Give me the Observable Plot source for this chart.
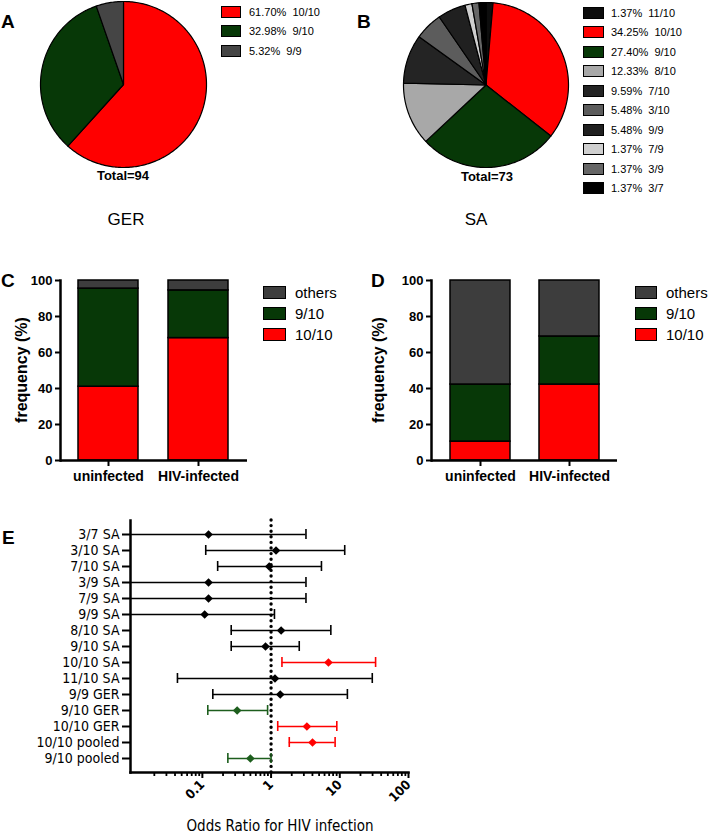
<!DOCTYPE html>
<html><head><meta charset="utf-8">
<script src="https://cdn.jsdelivr.net/npm/d3@7"></script>
<script src="https://cdn.jsdelivr.net/npm/@observablehq/plot@0.6"></script>
<style>
body{margin:0;background:#fff;font-family:Arial,"Liberation Sans",sans-serif;color:#000;}
#page{position:relative;width:708px;height:834px;overflow:hidden;background:#fff;}
#page svg{position:absolute;overflow:visible;background:transparent;}
.t{position:absolute;white-space:pre;line-height:1;}
.sw{position:absolute;box-sizing:border-box;border:1.5px solid #000;}
.narrow{font-family:"Liberation Sans Narrow","Arial Narrow","DejaVu Sans Condensed",Arial,sans-serif;}
</style></head>
<body><div id="page"></div>
<script>
// ---------- data ----------
const gerLabels = ["10/10", "9/10", "9/9"];
const gerPct = [61.70, 32.98, 5.32];
const gerColors = ["#ff0000", "#073807", "#454545"];
const gerTotal = 94;

const saLabels = ["11/10", "10/10", "9/10", "8/10", "7/10", "3/10", "9/9", "7/9", "3/9", "3/7"];
const saPct = [1.37, 34.25, 27.40, 12.33, 9.59, 5.48, 5.48, 1.37, 1.37, 1.37];
const saColors = ["#0d0d0d", "#ff0000", "#073807", "#a8a8a8", "#242424", "#5c5c5c", "#202020", "#cfcfcf", "#666666", "#000000"];
const saTotal = 73;

const groups = ["uninfected", "HIV-infected"];
const categories = ["10/10", "9/10", "others"];
const catColors = ["#ff0000", "#073807", "#3d3d3d"];
const gerFreq10 = [41.0, 68.0];
const gerFreq9 = [54.5, 26.5];
const gerFreqOthers = [4.5, 5.5];
const saFreq10 = [10.5, 42.2];
const saFreq9 = [31.7, 26.7];
const saFreqOthers = [57.8, 31.1];
const freqTicks = [0, 20, 40, 60, 80, 100];

const orLabels = ["3/7 SA", "3/10 SA", "7/10 SA", "3/9 SA", "7/9 SA", "9/9 SA", "8/10 SA", "9/10 SA", "10/10 SA", "11/10 SA", "9/9 GER", "9/10 GER", "10/10 GER", "10/10 pooled", "9/10 pooled"];
const orValue = [0.123, 1.18, 0.94, 0.123, 0.123, 0.108, 1.40, 0.83, 6.84, 1.14, 1.36, 0.321, 3.32, 4.01, 0.50];
const orLower = [0.001, 0.112, 0.167, 0.001, 0.001, 0.001, 0.263, 0.263, 1.44, 0.0434, 0.142, 0.120, 1.25, 1.84, 0.235];
const orUpper = [3.22, 11.8, 5.41, 3.22, 3.22, 1.12, 7.41, 2.57, 33.2, 29.7, 12.9, 0.89, 9.05, 8.55, 1.0];
const orGroup = ["ns", "ns", "ns", "ns", "ns", "ns", "ns", "ns", "risk", "ns", "ns", "protective", "risk", "risk", "protective"];
const orGroupDomain = ["ns", "risk", "protective"];
const orGroupColors = ["#000000", "#ff0000", "#1d5e1d"];
const orDomain = [0.009, 100];
const orMajorTicks = [0.1, 1, 10, 100];
const orMinorTicks = [0.02,0.03,0.04,0.05,0.06,0.07,0.08,0.09,0.2,0.3,0.4,0.5,0.6,0.7,0.8,0.9,2,3,4,5,6,7,8,9,20,30,40,50,60,70,80,90];
const orReference = [1];

// ---------- helpers ----------
const page = document.getElementById("page");
function put(svg, left, top) { svg.style.left = left + "px"; svg.style.top = top + "px"; page.appendChild(svg); }
function txt(str, x, y, css, anchor) {
  const d = document.createElement("div");
  d.className = "t";
  d.textContent = str;
  d.style.cssText += css;
  d.style.left = x + "px"; d.style.top = y + "px";
  d.style.transform = anchor === "center" ? "translate(-50%,-50%)" : "translate(0,-50%)";
  page.appendChild(d);
  return d;
}
function swatch(color, x, y, w, h) {
  const d = document.createElement("div");
  d.className = "sw";
  d.style.left = x + "px"; d.style.top = (y - h / 2) + "px";
  d.style.width = w + "px"; d.style.height = h + "px";
  d.style.background = color;
  page.appendChild(d);
}

function piePlot(labels, pct, colors, r) {
  const pts = [];
  let cum = 0;
  labels.forEach((lab, i) => {
    const a0 = cum / 100 * 2 * Math.PI; cum += pct[i]; const a1 = cum / 100 * 2 * Math.PI;
    const n = Math.max(2, Math.ceil((a1 - a0) / (Math.PI / 180)));
    pts.push({key: lab, x: 0, y: 0, c: colors[i]});
    for (let k = 0; k <= n; k++) { const a = a0 + (a1 - a0) * k / n; pts.push({key: lab, x: Math.sin(a), y: Math.cos(a), c: colors[i]}); }
  });
  const m = 4;
  return Plot.plot({
    width: 2 * r + 2 * m, height: 2 * r + 2 * m, margin: m,
    x: {domain: [-1, 1], axis: null}, y: {domain: [-1, 1], axis: null},
    marks: [Plot.line(pts, {x: "x", y: "y", z: "key", fill: "c", stroke: "#000", strokeWidth: 1.2, curve: "linear-closed", strokeLinejoin: "round"})]
  });
}

function barPlot(f10, f9, fo, marginLeft, width) {
  const rows = [];
  groups.forEach((g, i) => {
    rows.push({g, cat: categories[0], v: f10[i]}, {g, cat: categories[1], v: f9[i]}, {g, cat: categories[2], v: fo[i]});
  });
  return Plot.plot({
    width, height: 225, marginLeft, marginRight: 3, marginTop: 10, marginBottom: 35,
    style: {fontFamily: "Arial, 'Liberation Sans', sans-serif", fontWeight: "bold", fontSize: "13px", color: "#000"},
    x: {domain: groups, paddingInner: 0.33, paddingOuter: 0.2, label: null, axis: null},
    y: {domain: [0, 100], label: null, axis: null},
    color: {domain: categories, range: catColors},
    marks: [
      Plot.barY(rows, {x: "g", y: "v", fill: "cat", order: categories, stroke: "#000", strokeWidth: 1.5}),
      Plot.frame({anchor: "left", strokeWidth: 2.5}),
      Plot.ruleY([0], {strokeWidth: 2.5}),
      Plot.axisY({ticks: freqTicks, tickSize: 5, tickPadding: 3, strokeWidth: 2, label: null, fontSize: 13, fontWeight: "bold"}),
      Plot.axisX({tickSize: 6, tickPadding: 5, strokeWidth: 2, label: null, fontSize: 14, fontWeight: "bold"})
    ]
  });
}

// ---------- panel A ----------
put(piePlot(gerLabels, gerPct, gerColors, 83), 123 - 87, 83.5 - 87);
txt("A", 1, 21, "font-weight:bold;font-size:19px;");
gerLabels.forEach((lab, i) => {
  const cy = 11.7 + i * 19.7;
  swatch(gerColors[i], 221, cy, 20, 12);
  txt(gerPct[i].toFixed(2) + "%  " + lab, 249, cy, "font-size:11px;");
});
txt("Total=" + gerTotal, 123, 175, "font-weight:bold;font-size:13px;", "center");
txt("GER", 126, 219, "font-size:17px;", "center");

// ---------- panel B ----------
put(piePlot(saLabels, saPct, saColors, 82.5), 485 - 86.5, 84.5 - 86.5);
txt("B", 357, 21, "font-weight:bold;font-size:19px;");
saLabels.forEach((lab, i) => {
  const cy = 12.7 + i * 19.5;
  swatch(saColors[i], 583, cy, 21, 12);
  txt(saPct[i].toFixed(2) + "%  " + lab, 611, cy, "font-size:11px;");
});
txt("Total=" + saTotal, 487, 176, "font-weight:bold;font-size:13px;", "center");
txt("SA", 476, 219, "font-size:17px;", "center");

// ---------- panel C ----------
put(barPlot(gerFreq10, gerFreq9, gerFreqOthers, 60, 250), 0, 270);
txt("C", 1, 280, "font-weight:bold;font-size:19px;");
txt("frequency (%)", 22, 370, "font-weight:bold;font-size:16px;transform:translate(-50%,-50%) rotate(-90deg);", "center").style.transform = "translate(-50%,-50%) rotate(-90deg)";
[2, 1, 0].forEach((ci, j) => {
  const cy = 292 + j * 21;
  swatch(catColors[ci], 263, cy, 23, 13);
  txt(categories[ci], 295, cy, "font-size:15px;");
});

// ---------- panel D ----------
put(barPlot(saFreq10, saFreq9, saFreqOthers, 77, 266), 354, 270);
txt("D", 371, 280, "font-weight:bold;font-size:19px;");
txt("frequency (%)", 379, 370, "font-weight:bold;font-size:16px;", "center").style.transform = "translate(-50%,-50%) rotate(-90deg)";
[2, 1, 0].forEach((ci, j) => {
  const cy = 292 + j * 21;
  swatch(catColors[ci], 635, cy, 22, 13);
  txt(categories[ci], 666, cy, "font-size:15px;");
});

// ---------- panel E ----------
const orRows = orLabels.map((label, i) => ({label, v: orValue[i], lo: orLower[i], hi: orUpper[i], grp: orGroup[i]}));
const narrow = "'Liberation Sans Narrow','Arial Narrow','DejaVu Sans Condensed',Arial,sans-serif";
const ePlot = Plot.plot({
  width: 420, height: 300, marginLeft: 130, marginRight: 12, marginTop: 15, marginBottom: 33,
  style: {fontFamily: narrow, fontSize: "14px", color: "#000"},
  x: {type: "log", domain: orDomain, clamp: true, axis: null, label: null},
  y: {domain: orLabels, paddingInner: 0, paddingOuter: 0.04, axis: null, label: null},
  color: {domain: orGroupDomain, range: orGroupColors},
  marks: [
    Plot.ruleX(orReference, {strokeWidth: 3.4, strokeDasharray: "0 5.6", strokeLinecap: "round"}),
    Plot.ruleY(orRows, {y: "label", x1: "lo", x2: "hi", stroke: "grp", strokeWidth: 1.6}),
    Plot.tickX(orRows.filter(d => d.lo >= orDomain[0]), {x: "lo", y: "label", stroke: "grp", strokeWidth: 1.6, insetTop: 3, insetBottom: 3}),
    Plot.tickX(orRows, {x: "hi", y: "label", stroke: "grp", strokeWidth: 1.6, insetTop: 3, insetBottom: 3}),
    Plot.dot(orRows, {x: "v", y: "label", fill: "grp", symbol: "diamond2", r: 3.9, stroke: "none"}),
    Plot.frame({anchor: "left", strokeWidth: 2.5}),
    Plot.frame({anchor: "bottom", strokeWidth: 2.5}),
    Plot.axisY({tickSize: 8, tickPadding: 3, strokeWidth: 2, label: null, fontSize: 14}),
    Plot.axisX({ticks: orMinorTicks, tickSize: 4, strokeWidth: 1.8, tickFormat: () => "", label: null}),
    Plot.axisX({ticks: orMajorTicks, tickSize: 6, tickPadding: 4, strokeWidth: 2, tickRotate: -45, tickFormat: d => String(d), label: null, fontSize: 13, fontWeight: "bold"})
  ]
});
put(ePlot, 0, 505);
txt("E", 2, 537, "font-weight:bold;font-size:19px;");
txt("Odds Ratio for HIV infection", 280, 826, "font-size:15px;font-family:" + narrow + ";", "center");
</script>
</body></html>
